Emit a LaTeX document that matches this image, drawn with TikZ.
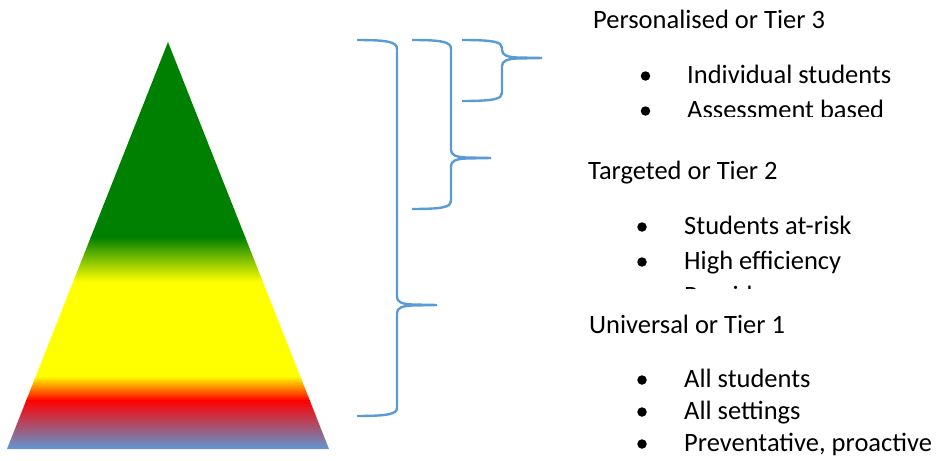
\documentclass[tikz,border=0pt]{standalone}
\usepackage{fontspec}
\setmainfont{Carlito}
\definecolor{bracecol}{RGB}{91,155,213}
\definecolor{tgreen}{RGB}{0,128,0}
\definecolor{tlime}{RGB}{165,205,0}
\definecolor{tyellow}{RGB}{255,255,0}
\definecolor{torange}{RGB}{255,140,0}
\definecolor{tred}{RGB}{255,0,0}
\definecolor{tcrimson}{RGB}{190,45,75}
\definecolor{tblue}{RGB}{91,155,213}
\begin{document}
\begin{tikzpicture}[x=1pt,y=-1pt,
        brace/.style={draw=bracecol, line width=2.4pt},
        tiertext/.style={font=\fontsize{26.5}{32}\selectfont, anchor=base west, inner sep=0pt},
        dot/.style={circle, fill=black, inner sep=0pt, minimum size=9.5pt}]
            \useasboundingbox (0,0) rectangle (936,460);

            % pyramid
            \coordinate (apex) at (168,42);
            \coordinate (bl) at (7,449);
            \coordinate (br) at (329,449);
            \begin{scope}
                \clip (apex) -- (bl) -- (br) -- cycle;
                \fill[tgreen] (0,30) rectangle (340,237.5);
                \shade[top color=tgreen, middle color=tlime, bottom color=tyellow] (0,237) rectangle (340,282);
                \fill[tyellow] (0,281.5) rectangle (340,376.5);
                \shade[top color=tyellow, middle color=torange, bottom color=tred] (0,376) rectangle (340,400.5);
                \shade[top color=tred, middle color=tcrimson, bottom color=tblue] (0,400) rectangle (340,450);
            \end{scope}

            % braces
            \coordinate (b1top) at (357,40); \coordinate (b1tip) at (437,305); \coordinate (b1bot) at (357,416);
            \coordinate (b2top) at (412,40); \coordinate (b2tip) at (491,158); \coordinate (b2bot) at (412,209);
            \coordinate (b3top) at (462,40); \coordinate (b3tip) at (542,58); \coordinate (b3bot) at (462,101);
            \draw[brace] (b1top) .. controls (388,40) and (397,42) .. (397,49) -- (397,297) .. controls (397,302) and (402,304) .. (412,304.5) -- (b1tip) -- (412,305.5) .. controls (402,306) and (397,308) .. (397,313) -- (397,408) .. controls (397,414) and (388,416) .. (b1bot);
            \draw[brace] (b2top) .. controls (443,40) and (451,42) .. (451,49) -- (451,150) .. controls (451,155) and (456,157) .. (466,157.5) -- (b2tip) -- (466,158.5) .. controls (456,159) and (451,161) .. (451,166) -- (451,201) .. controls (451,207) and (443,209) .. (b2bot);
            \draw[brace] (b3top) .. controls (494,40) and (502,42) .. (502,48) -- (502,50) .. controls (502,55) and (507,57) .. (517,57.5) -- (b3tip) -- (517,58.5) .. controls (507,59) and (502,61) .. (502,66) -- (502,93) .. controls (502,99) and (494,101) .. (b3bot);

            % tier 3
            \node[tiertext] (t3) at (593,28.5) {Personalised or Tier 3};
            \begin{scope}
                \clip (580,0) rectangle (936,116);
                \node[dot] (t3d1) at (645.5,76) {};
                \node[tiertext] (t3i1) at (687,83) {Individual students};
                \node[dot] (t3d2) at (645.5,111) {};
                \node[tiertext] (t3i2) at (687,118.5) {Assessment based};
            \end{scope}

            % tier 2
            \node[tiertext] (t2) at (588,179.5) {Targeted or Tier 2};
            \begin{scope}
                \clip (580,140) rectangle (936,288);
                \node[dot] (t2d1) at (642,227) {};
                \node[tiertext] (t2i1) at (684,234) {Students at-risk};
                \node[dot] (t2d2) at (642,262) {};
                \node[tiertext] (t2i2) at (684,269) {High efficiency};
                \node[dot] (t2d3) at (642,297) {};
                \node[tiertext] (t2i3) at (684,304) {Provides};
            \end{scope}

            % tier 1
            \node[tiertext] (t1) at (589,333.5) {Universal or Tier 1};
            \node[dot] (t1d1) at (642,380) {};
            \node[tiertext] (t1i1) at (684,387) {All students};
            \node[dot] (t1d2) at (642,412) {};
            \node[tiertext] (t1i2) at (684,419) {All settings};
            \node[dot] (t1d3) at (642,444) {};
            \node[tiertext] (t1i3) at (684,451) {Preventative, proactive};
        \end{tikzpicture}
\end{document}
